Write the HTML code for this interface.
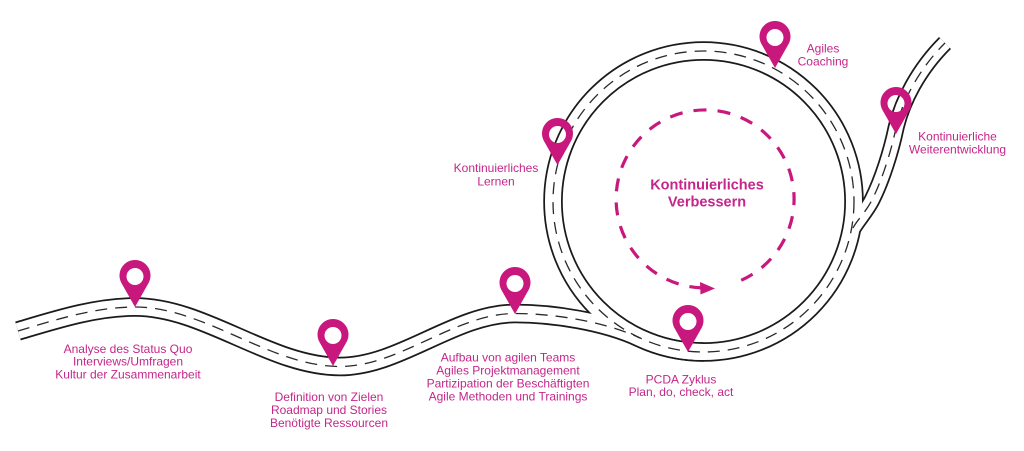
<!DOCTYPE html>
<html>
<head>
<meta charset="utf-8">
<style>
  html, body { margin:0; padding:0; background:#ffffff; }
  body { width:1024px; height:451px; overflow:hidden; }
  svg { display:block; }
  .lbl { font-family:"Liberation Sans", Arial, sans-serif; font-size:12px; fill:#c4268a; text-anchor:middle; }
  .big { font-family:"Liberation Sans", Arial, sans-serif; font-size:14.5px; font-weight:bold; fill:#c4268a; text-anchor:middle; }
</style>
</head>
<body>
<svg width="1024" height="451" viewBox="0 0 1024 451" xmlns="http://www.w3.org/2000/svg">
  <rect width="1024" height="451" fill="#ffffff"/>

  <!-- road black edges -->
  <g fill="none" stroke="#1b1b1b" stroke-linecap="butt">
    <path d="M18,331 C55,320 95,307 135,307 C205,307 270,366.5 340,366.5 C400,366.5 455,313.5 515,313.5 C552,313.5 603.8,321.1 640,338 A150.5 150.5 0 0 0 703.5,352" stroke-width="19.5"/>
    <circle cx="703.5" cy="201.5" r="150.5" stroke-width="19.5"/>
    <path d="M851,232 C856,222 866,212 872,200 C882,180 891,152 896,128 C902,102 918,70 945,43" stroke-width="17"/>
  </g>
  <!-- road white fill -->
  <g fill="none" stroke="#ffffff" stroke-linecap="butt">
    <path d="M18,331 C55,320 95,307 135,307 C205,307 270,366.5 340,366.5 C400,366.5 455,313.5 515,313.5 C552,313.5 603.8,321.1 640,338 A150.5 150.5 0 0 0 703.5,352" stroke-width="16"/>
    <circle cx="703.5" cy="201.5" r="150.5" stroke-width="16"/>
    <path d="M851,232 C856,222 866,212 872,200 C882,180 891,152 896,128 C902,102 918,70 945,43" stroke-width="13.5"/>
  </g>
  <!-- road center dashes -->
  <g fill="none" stroke="#2a2a2a" stroke-width="1.3" stroke-dasharray="12 8">
    <path d="M18,331 C55,320 95,307 135,307 C205,307 270,366.5 340,366.5 C400,366.5 455,313.5 515,313.5 C552,313.5 603.8,321.1 640,338"/>
    <circle cx="703.5" cy="201.5" r="150.5"/>
    <path d="M853,228 C857,220 866,212 872,200 C882,180 891,152 896,128 C902,102 918,70 945,43"/>
  </g>

  <!-- inner pink dashed cycle -->
  <path d="M741.2,280.3 A89 89 0 1 0 701.9,287.9" fill="none" stroke="#c8187d" stroke-width="3.2" stroke-dasharray="13 11.09"/>
  <polygon points="700,282 715,288.5 700.5,294.5" fill="#c8187d"/>

  <!-- pins -->
  <g fill="#c8187d" fill-rule="evenodd">
    <path d="M135,307 L121.5,283.1 A15.5 15.5 0 1 1 148.5,283.1 Z M143.5,276.5 A8.5 8.5 0 1 0 126.5,276.5 A8.5 8.5 0 1 0 143.5,276.5 Z"/>
    <path d="M333,366 L319.5,342.1 A15.5 15.5 0 1 1 346.5,342.1 Z M341.5,335.5 A8.5 8.5 0 1 0 324.5,335.5 A8.5 8.5 0 1 0 341.5,335.5 Z"/>
    <path d="M515,314 L501.5,290.1 A15.5 15.5 0 1 1 528.5,290.1 Z M523.5,283.5 A8.5 8.5 0 1 0 506.5,283.5 A8.5 8.5 0 1 0 523.5,283.5 Z"/>
    <path d="M688,352 L674.5,328.1 A15.5 15.5 0 1 1 701.5,328.1 Z M696.5,321.5 A8.5 8.5 0 1 0 679.5,321.5 A8.5 8.5 0 1 0 696.5,321.5 Z"/>
    <path d="M557.5,165 L544,141.1 A15.5 15.5 0 1 1 571,141.1 Z M566,134.5 A8.5 8.5 0 1 0 549,134.5 A8.5 8.5 0 1 0 566,134.5 Z"/>
    <path d="M775,68 L761.5,44.1 A15.5 15.5 0 1 1 788.5,44.1 Z M783.5,37.5 A8.5 8.5 0 1 0 766.5,37.5 A8.5 8.5 0 1 0 783.5,37.5 Z"/>
    <path d="M896,134 L882.5,110.1 A15.5 15.5 0 1 1 909.5,110.1 Z M904.5,103.5 A8.5 8.5 0 1 0 887.5,103.5 A8.5 8.5 0 1 0 904.5,103.5 Z"/>
  </g>

  <!-- labels -->
  <text class="big" x="707" y="189.5">Kontinuierliches</text>
  <text class="big" x="707" y="206.7">Verbessern</text>

  <text class="lbl" x="128" y="353">Analyse des Status Quo</text>
  <text class="lbl" x="128" y="365.7">Interviews/Umfragen</text>
  <text class="lbl" x="128" y="378.4">Kultur der Zusammenarbeit</text>

  <text class="lbl" x="329" y="401">Definition von Zielen</text>
  <text class="lbl" x="329" y="414">Roadmap und Stories</text>
  <text class="lbl" x="329" y="427">Benötigte Ressourcen</text>

  <text class="lbl" x="508" y="361.7">Aufbau von agilen Teams</text>
  <text class="lbl" x="508" y="374.5">Agiles Projektmanagement</text>
  <text class="lbl" x="508" y="387.4">Partizipation der Beschäftigten</text>
  <text class="lbl" x="508" y="400.3">Agile Methoden und Trainings</text>

  <text class="lbl" x="681" y="383.3">PCDA Zyklus</text>
  <text class="lbl" x="681" y="396">Plan, do, check, act</text>

  <text class="lbl" x="496" y="172">Kontinuierliches</text>
  <text class="lbl" x="496" y="185.5">Lernen</text>

  <text class="lbl" x="823" y="52.7">Agiles</text>
  <text class="lbl" x="823" y="65.3">Coaching</text>

  <text class="lbl" x="957.5" y="140.7">Kontinuierliche</text>
  <text class="lbl" x="957.5" y="153.3">Weiterentwicklung</text>
</svg>
</body>
</html>
